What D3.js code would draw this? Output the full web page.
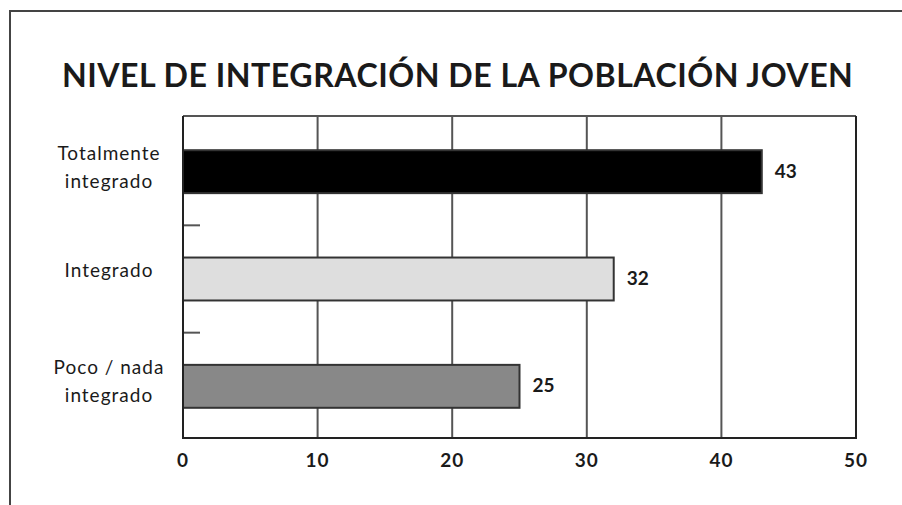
<!DOCTYPE html>
<html>
<head>
<meta charset="utf-8">
<script src="https://cdn.jsdelivr.net/npm/d3@7"></script>
<style>
  body { margin: 0; background: #fff; }
  text { font-family: Lato, "Open Sans", sans-serif; fill: #1a1a1a; }
</style>
</head>
<body>
<div id="chart"></div>
<script>
// data
var categories = ["Totalmente\nintegrado", "Integrado", "Poco / nada\nintegrado"];
var values = [43, 32, 25];
var barColors = ["#000000", "#dedede", "#888888"];
var xTicks = [0, 10, 20, 30, 40, 50];
var title = "NIVEL DE INTEGRACIÓN DE LA POBLACIÓN JOVEN";

var width = 902, height = 505;
var plot = { left: 183, right: 856, top: 116, bottom: 438 };

var svg = d3.select('#chart')
  .append('svg')
  .attr('width', width)
  .attr('height', height);

// outer frame (only top and left show)
svg.append('path')
  .attr('d', 'M10,' + height + 'V11H' + width)
  .attr('fill', 'none')
  .attr('stroke', '#444')
  .attr('stroke-width', 2);

// title, fitted to the width of the original
var t = svg.append('text')
  .attr('x', 62)
  .attr('y', 87)
  .style('font-weight', 700)
  .style('font-size', '30px')
  .style('letter-spacing', '0.5px')
  .text(title);
var w = t.node().getComputedTextLength();
t.style('font-size', (30 * 793 / w) + 'px');

var x = d3.scaleLinear().domain([0, 50]).range([plot.left, plot.right]);
var y = d3.scaleBand().domain(d3.range(categories.length))
  .range([plot.top, plot.bottom])
  .paddingInner(0.6).paddingOuter(0.3);
var step = y.step();

// gridlines
svg.append('g')
  .selectAll('line')
  .data(xTicks.slice(1))
  .enter()
  .append('line')
  .attr('x1', function (d) { return x(d); })
  .attr('x2', function (d) { return x(d); })
  .attr('y1', plot.top)
  .attr('y2', plot.bottom)
  .attr('stroke', '#555')
  .attr('stroke-width', 2);

// plot top border
svg.append('line')
  .attr('x1', plot.left).attr('x2', plot.right)
  .attr('y1', plot.top).attr('y2', plot.top)
  .attr('stroke', '#555').attr('stroke-width', 2);

// small category separators on the left axis
svg.append('g')
  .selectAll('line')
  .data(d3.range(1, categories.length))
  .enter()
  .append('line')
  .attr('x1', plot.left)
  .attr('x2', plot.left + 17)
  .attr('y1', function (d) { return plot.top + d * step + 2; })
  .attr('y2', function (d) { return plot.top + d * step + 2; })
  .attr('stroke', '#555')
  .attr('stroke-width', 2);

// bars
svg.append('g')
  .selectAll('rect')
  .data(values)
  .enter()
  .append('rect')
  .attr('x', x(0))
  .attr('y', function (d, i) { return y(i) + 2; })
  .attr('width', function (d) { return x(d) - x(0); })
  .attr('height', y.bandwidth())
  .attr('fill', function (d, i) { return barColors[i]; })
  .attr('stroke', '#333')
  .attr('stroke-width', 2);

// value labels
svg.append('g')
  .selectAll('text')
  .data(values)
  .enter()
  .append('text')
  .attr('x', function (d) { return x(d) + 13; })
  .attr('y', function (d, i) { return y(i) + y.bandwidth() / 2 + 8; })
  .style('font-weight', 700)
  .style('font-size', '19px')
  .text(function (d) { return d; });

// axes lines (left + bottom)
svg.append('path')
  .attr('d', 'M' + plot.left + ',' + plot.top + 'V' + plot.bottom + 'H' + plot.right + 'V' + plot.top)
  .attr('fill', 'none')
  .attr('stroke', '#222')
  .attr('stroke-width', 2);

// x tick labels
svg.append('g')
  .selectAll('text')
  .data(xTicks)
  .enter()
  .append('text')
  .attr('x', function (d) { return x(d); })
  .attr('y', 467)
  .attr('text-anchor', 'middle')
  .style('font-weight', 700)
  .style('font-size', '19px')
  .style('letter-spacing', '1px')
  .text(function (d) { return d; });

// category labels
var cat = svg.append('g')
  .selectAll('text')
  .data(categories)
  .enter()
  .append('text')
  .attr('text-anchor', 'middle')
  .style('font-size', '19px')
  .style('letter-spacing', '1px')
  .attr('y', function (d, i) { return plot.top + (i + 0.5) * step; });

cat.each(function (d, i) {
  var lines = d.split('\n');
  var yc = plot.top + (i + 0.5) * step;
  var el = d3.select(this);
  lines.forEach(function (s, k) {
    el.append('tspan')
      .attr('x', 109)
      .attr('y', lines.length === 1 ? yc : yc - 10 + k * 28)
      .text(s);
  });
});
</script>
</body>
</html>
